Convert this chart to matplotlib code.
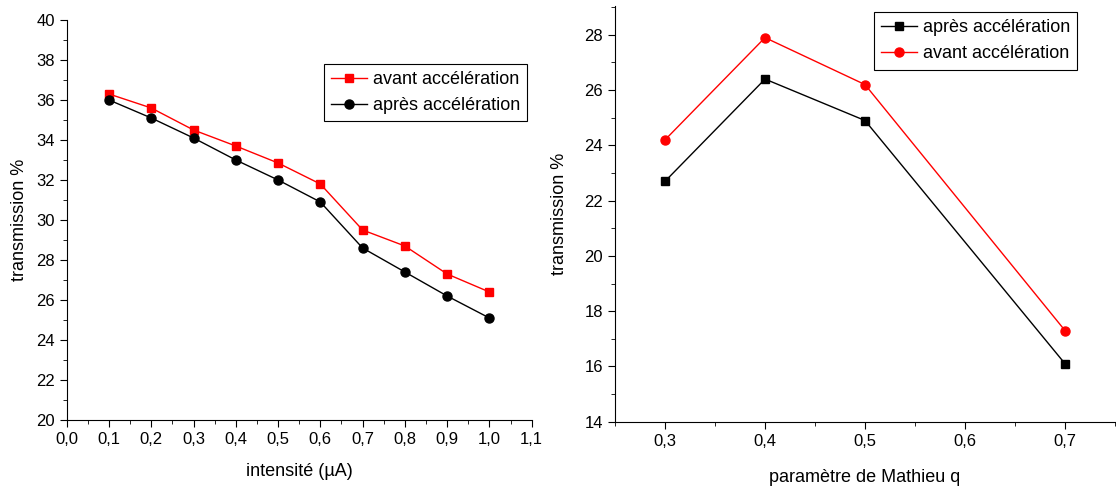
import matplotlib.pyplot as plt
from matplotlib.ticker import MultipleLocator, FuncFormatter

plt.rcParams['font.family'] = ['Liberation Sans Narrow', 'Liberation Sans', 'DejaVu Sans']

# left panel: transmission vs intensity
intensite = [0.1, 0.2, 0.3, 0.4, 0.5, 0.6, 0.7, 0.8, 0.9, 1.0]
avant_i = [36.3, 35.6, 34.5, 33.7, 32.85, 31.8, 29.5, 28.7, 27.3, 26.4]
apres_i = [36.0, 35.1, 34.1, 33.0, 32.0, 30.9, 28.6, 27.4, 26.2, 25.1]

# right panel: transmission vs Mathieu q
q = [0.3, 0.4, 0.5, 0.7]
apres_q = [22.7, 26.4, 24.9, 16.1]
avant_q = [24.2, 27.9, 26.2, 17.3]

comma = FuncFormatter(lambda v, p: f'{v:.1f}'.replace('.', ','))

fig = plt.figure(figsize=(11.16, 4.91), dpi=100)
ax1 = fig.add_axes([0.0598, 0.1446, 0.4166, 0.8147])
ax2 = fig.add_axes([0.5511, 0.1411, 0.448, 0.847])

leg_kw = dict(fontsize=13, frameon=True, fancybox=False, edgecolor='black',
              handlelength=2.0, handletextpad=0.3, borderpad=0.4,
              labelspacing=0.5, borderaxespad=0)

ax1.plot(intensite, avant_i, color='red', marker='s', ms=6, lw=1, label='avant accélération')
ax1.plot(intensite, apres_i, color='black', marker='o', ms=6.5, lw=1, label='après accélération')
ax1.set_xlim(0, 1.1)
ax1.set_ylim(20, 40)
ax1.xaxis.set_major_locator(MultipleLocator(0.1))
ax1.xaxis.set_minor_locator(MultipleLocator(0.05))
ax1.yaxis.set_major_locator(MultipleLocator(2))
ax1.yaxis.set_minor_locator(MultipleLocator(1))
ax1.xaxis.set_major_formatter(comma)
ax1.set_xlabel('intensité (µA)', fontsize=13, labelpad=12)
ax1.set_ylabel('transmission %', fontsize=13, labelpad=6)
ax1.legend(loc='upper right', bbox_to_anchor=(0.990, 0.89), **leg_kw)

ax2.plot(q, apres_q, color='black', marker='s', ms=5.5, lw=1, label='après accélération')
ax2.plot(q, avant_q, color='red', marker='o', ms=6.5, lw=1, label='avant accélération')
ax2.set_xlim(0.25, 0.75)
ax2.set_ylim(14, 29.05)
ax2.xaxis.set_major_locator(MultipleLocator(0.1))
ax2.xaxis.set_minor_locator(MultipleLocator(0.05))
ax2.yaxis.set_major_locator(MultipleLocator(2))
ax2.yaxis.set_minor_locator(MultipleLocator(1))
ax2.xaxis.set_major_formatter(comma)
ax2.set_xlabel('paramètre de Mathieu q', fontsize=13, labelpad=15)
ax2.set_ylabel('transmission %', fontsize=13, labelpad=12)
ax2.legend(loc='upper right', bbox_to_anchor=(0.924, 0.985), **leg_kw)

for ax in (ax1, ax2):
    ax.spines['top'].set_visible(False)
    ax.spines['right'].set_visible(False)
    ax.tick_params(which='major', direction='out', length=5, labelsize=12)
    ax.tick_params(which='minor', direction='out', length=3)
    ax.get_legend().get_frame().set_linewidth(0.8)
    ax.get_legend().get_frame().set_alpha(1)

fig.savefig('out.png', dpi=100)
